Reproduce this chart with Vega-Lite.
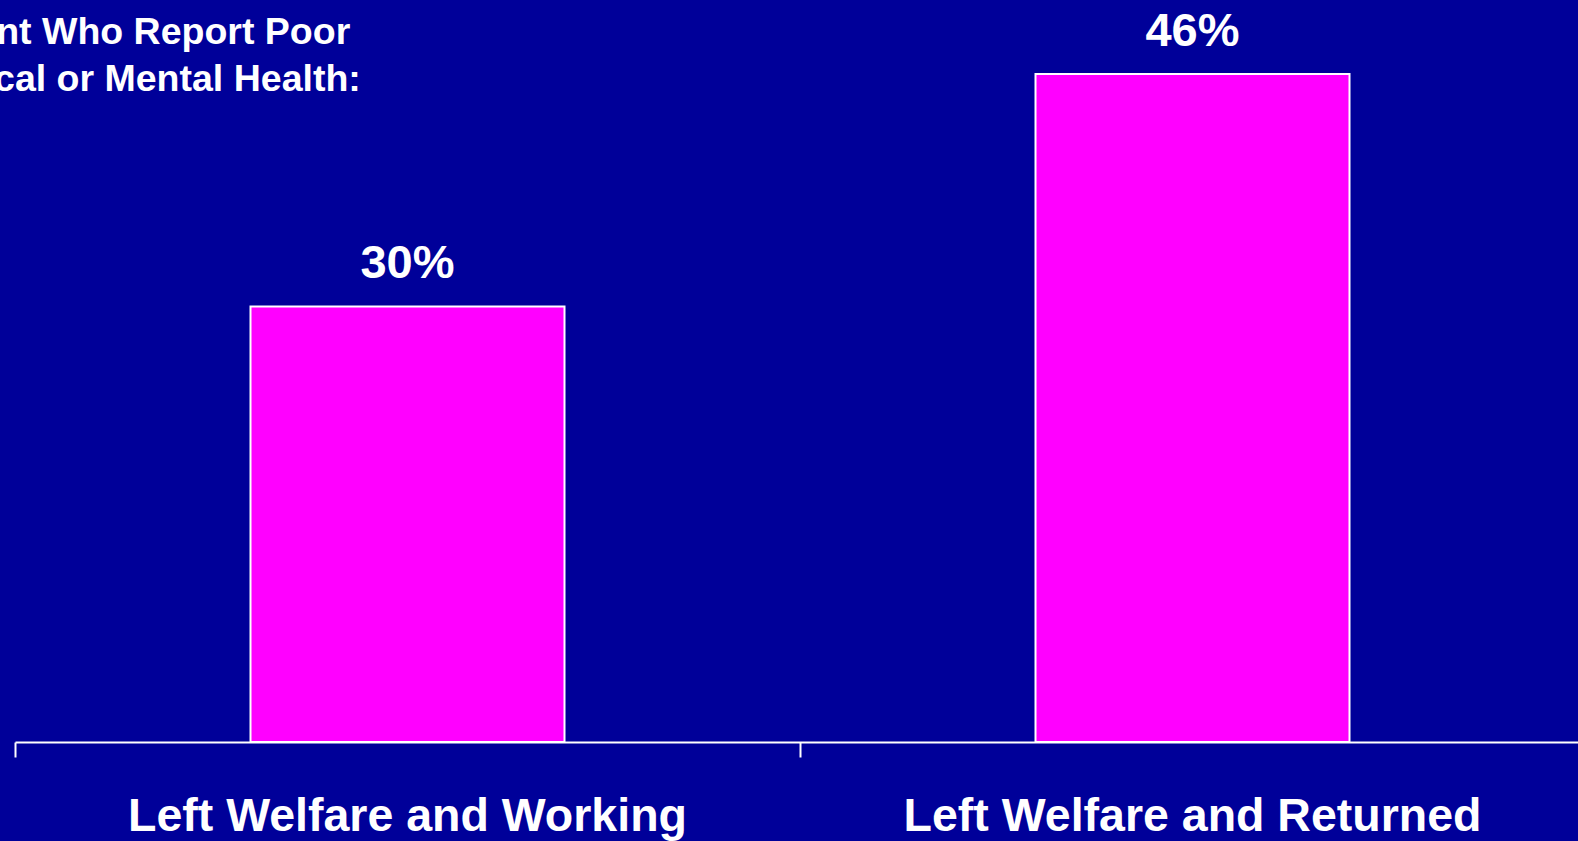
{
  "$schema": "https://vega.github.io/schema/vega-lite/v6.json",
  "width": 1563,
  "height": 726,
  "autosize": {"type": "none"},
  "padding": {"left": 15, "top": 16, "right": 0, "bottom": 99},
  "background": "#000099",
  "config": {"view": {"stroke": null}, "font": "Liberation Sans"},
  "title": {
    "text": ["Percent Who Report Poor", "Physical or Mental Health:"],
    "anchor": "start",
    "frame": "group",
    "orient": "top",
    "fontSize": 37.5,
    "fontWeight": "bold",
    "color": "white",
    "font": "Liberation Sans",
    "lineHeight": 47,
    "baseline": "top",
    "offset": 0,
    "dx": -121,
    "dy": 90
  },
  "data": {
    "values": [
      {"group": "Left Welfare and Working", "pct": 30, "label": "30%"},
      {"group": "Left Welfare and Returned", "pct": 46, "label": "46%"}
    ]
  },
  "encoding": {
    "x": {
      "field": "group",
      "type": "nominal",
      "sort": null,
      "scale": {"paddingInner": 0, "paddingOuter": 0, "range": [0, 1570]},
      "axis": {
        "title": null,
        "labelAngle": 0,
        "labelFontSize": 46.5,
        "labelFontWeight": "bold",
        "labelFont": "Liberation Sans",
        "labelColor": "white",
        "labelLimit": 0,
        "labelOverlap": false,
        "labelFlush": false,
        "domainColor": "white",
        "domainWidth": 2,
        "tickColor": "white",
        "tickWidth": 2,
        "tickSize": 15,
        "labelPadding": 36,
        "bandPosition": 0,
        "grid": false
      }
    },
    "y": {
      "field": "pct",
      "type": "quantitative",
      "scale": {"domain": [0, 50]},
      "axis": null
    }
  },
  "layer": [
    {"mark": {"type": "bar", "color": "#FF00FF", "stroke": "white", "strokeWidth": 2, "width": {"band": 0.4}}},
    {
      "mark": {"type": "text", "fontSize": 47, "fontWeight": "bold", "color": "white", "font": "Liberation Sans", "baseline": "alphabetic", "dy": -28},
      "encoding": {"text": {"field": "label", "type": "nominal"}}
    }
  ]
}
